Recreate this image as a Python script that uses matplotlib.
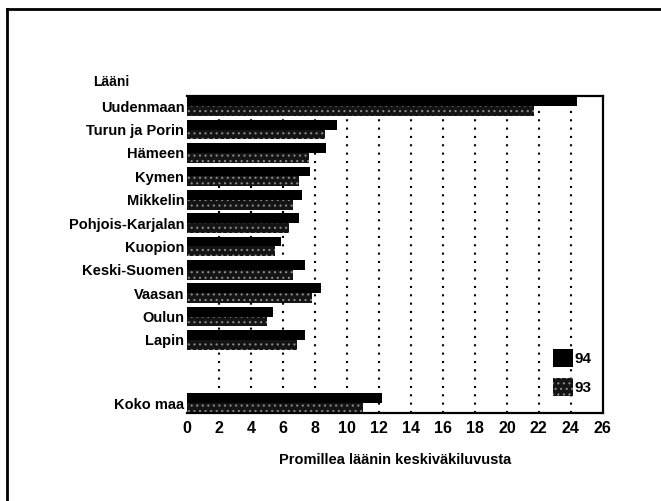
import matplotlib.pyplot as plt
from matplotlib.lines import Line2D

plt.rcParams['font.family'] = ['Liberation Sans', 'DejaVu Sans']
plt.rcParams['hatch.linewidth'] = 0.8

laanit = ['Uudenmaan', 'Turun ja Porin', 'Hämeen', 'Kymen', 'Mikkelin',
          'Pohjois-Karjalan', 'Kuopion', 'Keski-Suomen', 'Vaasan', 'Oulun',
          'Lapin', 'Koko maa']
v94 = [24.4, 9.4, 8.7, 7.7, 7.2, 7.0, 5.9, 7.4, 8.4, 5.4, 7.4, 12.2]
v93 = [21.7, 8.6, 7.6, 7.0, 6.6, 6.4, 5.5, 6.6, 7.8, 5.0, 6.9, 11.0]
# whole-country row sits apart from the provinces
ypos = list(range(11)) + [12.7]
xticks = list(range(0, 27, 2))

fig = plt.figure(figsize=(6.61, 5.01), dpi=100)
ax = fig.add_axes([0.283, 0.176, 0.629, 0.632])

for x in xticks[1:-1]:
    ax.axvline(x, color='black', lw=1.5, ls=(0, (1, 3)), zorder=1)

h = 0.42
ax.barh([y - h / 2 for y in ypos], v94, height=h, color='black',
        label='94', zorder=2)
ax.barh([y + h / 2 for y in ypos], v93, height=h, color='#141414',
        edgecolor='#8a8a8a', lw=0, hatch='...', label='93', zorder=2)

ax.set_xlim(0, 26)
ax.set_ylim(13.12, -0.43)
ax.set_xticks(xticks)
ax.set_xticklabels([str(x) for x in xticks], fontsize=11.5, fontweight='bold')
ax.set_yticks(ypos)
ax.set_yticklabels(laanit, fontsize=10.5, fontweight='bold')
ax.tick_params(length=0)
ax.tick_params(axis='x', pad=6)
ax.tick_params(axis='y', pad=2)
ax.spines['left'].set_visible(False)
for s in ['top', 'right', 'bottom']:
    ax.spines[s].set_linewidth(1.6)

ax.set_xlabel('Promillea läänin keskiväkiluvusta', fontsize=10.5,
              fontweight='bold', labelpad=12)
fig.text(0.141, 0.836, 'Lääni', fontsize=10, fontweight='bold',
         ha='left', va='center')

leg = ax.legend(loc='lower right', bbox_to_anchor=(0.99, 0.03),
                frameon=False, fontsize=11, handlelength=1.25,
                handleheight=1.4, handletextpad=0.1, labelspacing=0.75,
                borderpad=0)
for t in leg.get_texts():
    t.set_fontweight('bold')

# outer frame (top and left edges)
fig.add_artist(Line2D([0.011, 1.0], [0.982, 0.982], color='black', lw=2))
fig.add_artist(Line2D([0.011, 0.011], [0.0, 0.982], color='black', lw=2))

fig.savefig('out.png', dpi=100)
